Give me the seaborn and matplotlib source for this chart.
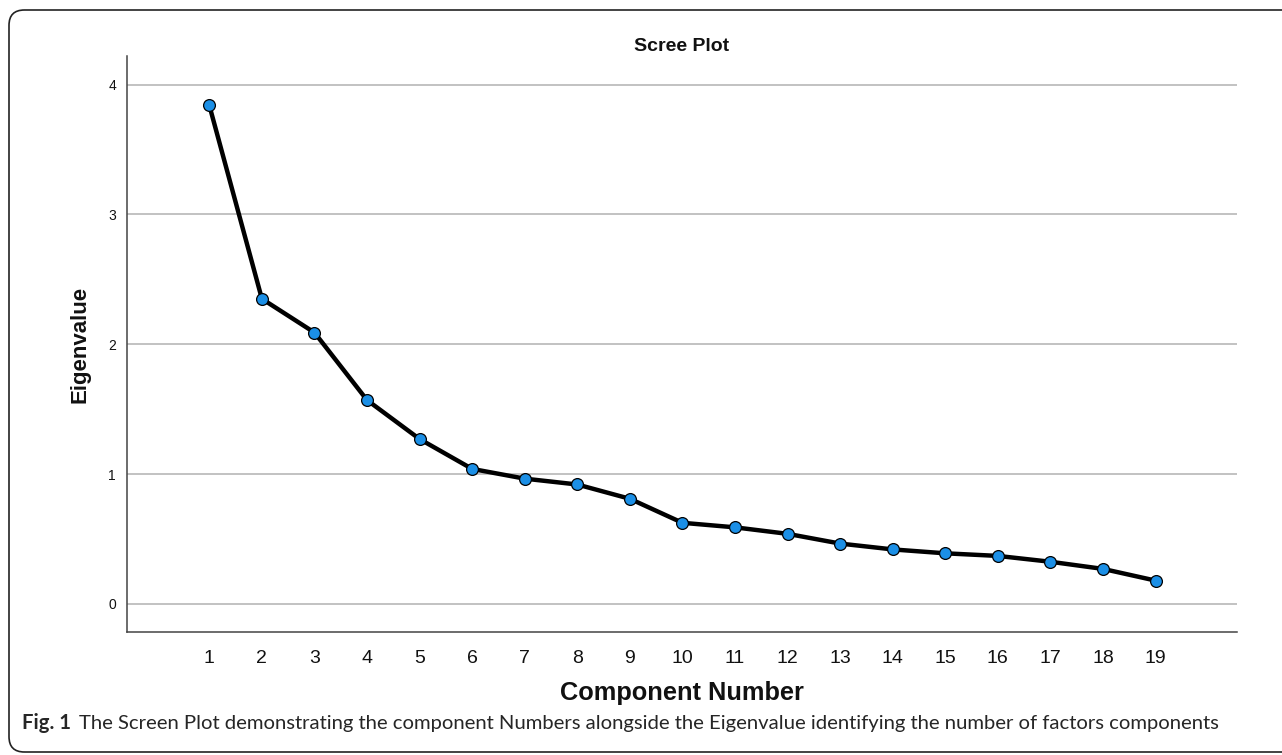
import matplotlib
matplotlib.use("Agg")
import matplotlib.pyplot as plt
from matplotlib.patches import FancyBboxPatch
import seaborn as sns
import pandas as pd

components = list(range(1, 20))
eigenvalues = [3.84, 2.35, 2.09, 1.57, 1.27, 1.04, 0.965, 0.92, 0.81, 0.625,
               0.59, 0.54, 0.465, 0.42, 0.39, 0.37, 0.325, 0.27, 0.18]
y_ticks = [0, 1, 2, 3, 4]

title = "Scree Plot"
xlabel = "Component Number"
ylabel = "Eigenvalue"
caption_bold = "Fig. 1"
caption_text = "The Screen Plot demonstrating the component Numbers alongside the Eigenvalue identifying the number of factors components"

sns.set_theme(style="white")
plt.rcParams['font.family'] = ['Liberation Sans', 'DejaVu Sans']

W, H = 1282, 755
fig = plt.figure(figsize=(W / 100, H / 100), dpi=100)
ax = fig.add_axes([127 / W, 1 - 632 / H, (1237 - 127) / W, (632 - 56) / H])

df = pd.DataFrame({"Component": components, "Eigenvalue": eigenvalues})
sns.lineplot(data=df, x="Component", y="Eigenvalue", ax=ax, color="black",
             linewidth=3.2, marker="o", markersize=8.5,
             markerfacecolor="#1b8fe6", markeredgecolor="black",
             markeredgewidth=0.9, zorder=3)

ax.set_xlim(-0.566, 20.55)
ax.set_ylim(-0.216, 4.22)
ax.set_xticks(components)
ax.set_yticks(y_ticks)
ax.tick_params(axis="x", length=0, pad=13, labelsize=14, colors="#111111")
ax.tick_params(axis="y", length=0, pad=8, labelsize=10, colors="#111111")
ax.yaxis.grid(True, color="#b8b8b8", linewidth=1.2)
ax.xaxis.grid(False)
for s in ["top", "right"]:
    ax.spines[s].set_visible(False)
for s in ["left", "bottom"]:
    ax.spines[s].set_color("#444444")
    ax.spines[s].set_linewidth(1.1)

ax.set_title(title, fontsize=14, fontweight="bold", pad=3.5, color="#111111")
ax.set_xlabel(xlabel, fontsize=18.3, fontweight="bold", color="#111111")
ax.set_ylabel(ylabel, fontsize=16, fontweight="bold", color="#111111")
ax.xaxis.label.set_va("center")
ax.xaxis.set_label_coords(0.5, (632 - 693) / 576)
ax.yaxis.label.set_va("center")
ax.yaxis.set_label_coords((80 - 127) / 1110, 0.5)

# caption
fig.text(22 / W, 1 - 723 / H, caption_bold, fontsize=14.6, fontweight="bold",
         family=["Lato", "DejaVu Sans"], va="center", ha="left")
fig.text(79 / W, 1 - 723 / H, caption_text, fontsize=14.6,
         family=["Lato", "DejaVu Sans"], va="center", ha="left")

# rounded border
border = FancyBboxPatch((9 / W, 1 - 752 / H), 1.2, (752 - 10) / H,
                        boxstyle="round,pad=0,rounding_size=0.012",
                        transform=fig.transFigure, fill=False,
                        edgecolor="#222222", linewidth=1.2,
                        mutation_aspect=W / H)
fig.patches.append(border)

fig.savefig("out.png", dpi=100)
